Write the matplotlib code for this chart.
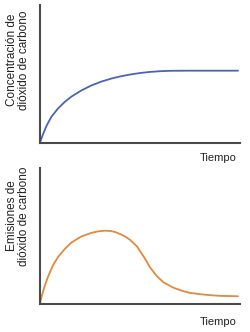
import matplotlib
matplotlib.use('Agg')
import matplotlib.pyplot as plt

# concentracion (panel superior)
conc_x = [0.0, 0.015, 0.032, 0.057, 0.09, 0.124, 0.157, 0.207, 0.257, 0.307, 0.357,
          0.4, 0.45, 0.5, 0.55, 0.6, 0.65, 0.75, 0.99]
conc_y = [0.005, 0.063, 0.123, 0.19, 0.25, 0.298, 0.336, 0.381, 0.417, 0.445, 0.467,
          0.482, 0.496, 0.507, 0.515, 0.52, 0.523, 0.524, 0.524]

# emisiones (panel inferior)
emis_x = [0.0, 0.01, 0.024, 0.04, 0.065, 0.09, 0.124, 0.157, 0.207, 0.257, 0.29, 0.324,
          0.35, 0.374, 0.4, 0.425, 0.45, 0.484, 0.517, 0.55, 0.584, 0.617, 0.667, 0.717,
          0.75, 0.8, 0.85, 0.9, 0.99]
emis_y = [0.005, 0.065, 0.135, 0.2, 0.285, 0.345, 0.405, 0.452, 0.497, 0.523, 0.534, 0.539,
          0.537, 0.53, 0.515, 0.497, 0.472, 0.425, 0.352, 0.27, 0.205, 0.16, 0.12, 0.094,
          0.082, 0.072, 0.065, 0.06, 0.057]

conc_label = 'Concentración de\ndióxido de carbono'
emis_label = 'Emisiones de\ndióxido de carbono'
x_label = 'Tiempo'

plt.rcParams['font.family'] = ['Liberation Sans', 'DejaVu Sans']

fig = plt.figure(figsize=(2.5, 3.32), dpi=100)
ax_top = fig.add_axes([0.16, 0.5693, 0.80, 0.4157])
ax_bot = fig.add_axes([0.16, 0.0843, 0.80, 0.4097])

for ax, xs, ys, color in [(ax_top, conc_x, conc_y, '#4a63b4'),
                          (ax_bot, emis_x, emis_y, '#e08a3c')]:
    ax.plot(xs, ys, color=color, lw=1.3, solid_capstyle='round',
            solid_joinstyle='round', clip_on=False)
    ax.set_xlim(0, 1)
    ax.set_ylim(0, 1)
    ax.set_xticks([])
    ax.set_yticks([])
    for side in ['top', 'right']:
        ax.spines[side].set_visible(False)
    for side in ['left', 'bottom']:
        ax.spines[side].set_color('#4a4a4a')
        ax.spines[side].set_linewidth(1.5)

fig.text(18 / 250, 1 - 60 / 332, conc_label, rotation=90, ha='center', va='center',
         multialignment='center', fontsize=8.5, color='#222222', linespacing=1.1)
fig.text(18 / 250, 1 - 216 / 332, emis_label, rotation=90, ha='center', va='center',
         multialignment='center', fontsize=8.5, color='#222222', linespacing=1.1)
fig.text(237 / 250, 1 - 158 / 332, x_label, ha='right', va='center', fontsize=8, color='#222222')
fig.text(237 / 250, 1 - 322 / 332, x_label, ha='right', va='center', fontsize=8, color='#222222')

fig.savefig('out.png', dpi=100, facecolor='white')
